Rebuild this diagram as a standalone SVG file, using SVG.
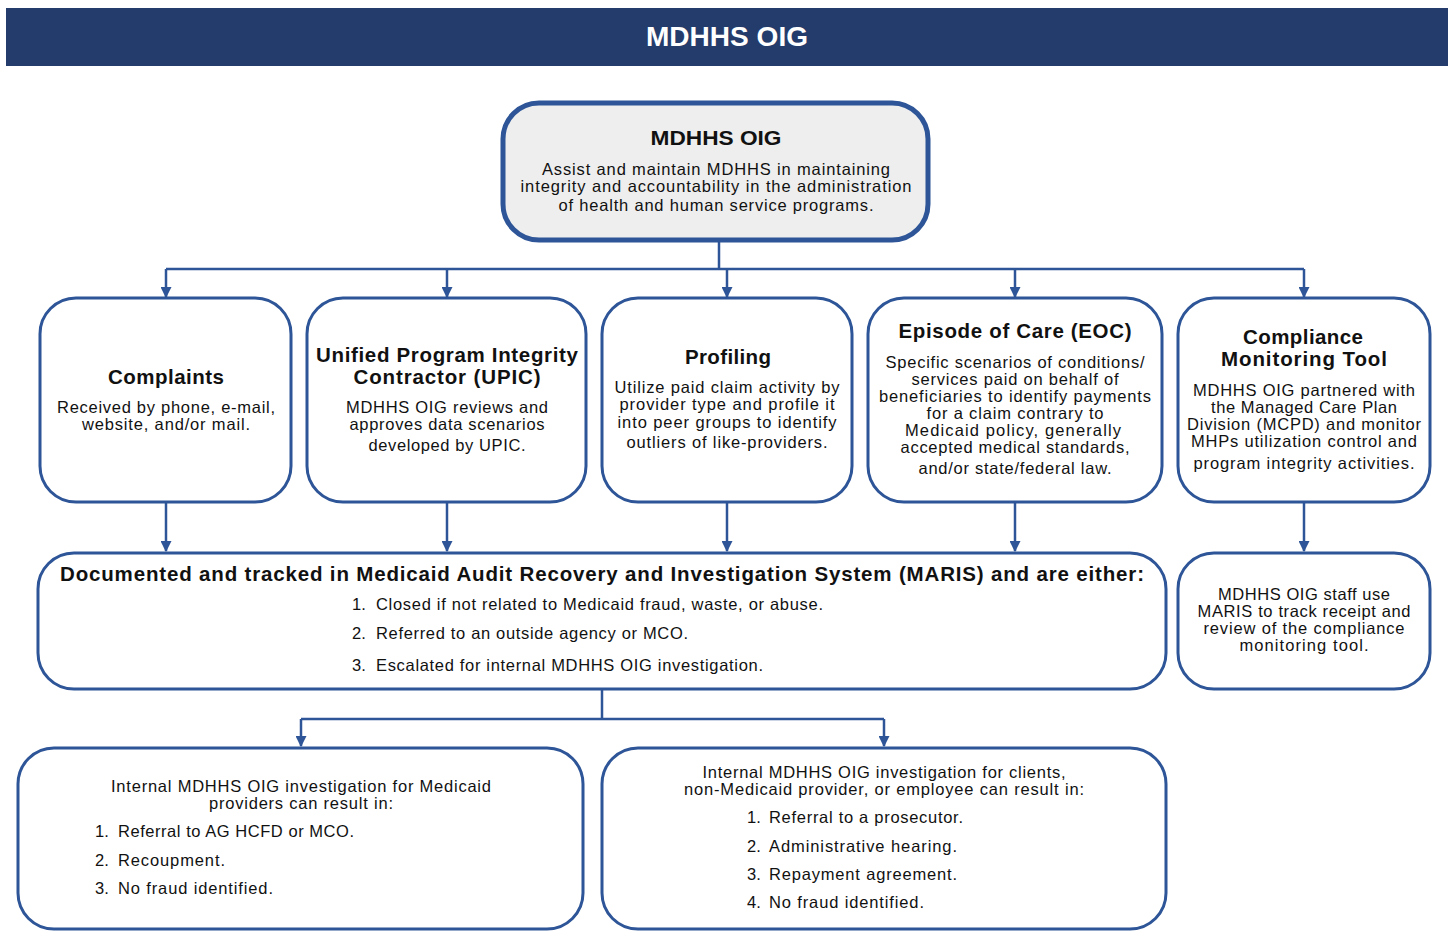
<svg xmlns="http://www.w3.org/2000/svg" width="1452" height="931" viewBox="0 0 1452 931">
<style>
.box{fill:#ffffff;stroke:#2d5597;stroke-width:3}
.top{fill:#eeeeee;stroke:#2d5597;stroke-width:5}
.ln{stroke:#2d5597;stroke-width:2.5;fill:none}
text{font-family:"Liberation Sans",Arial,sans-serif;fill:#111}
.t{font-size:20.5px;font-weight:bold;text-anchor:middle}
.b{font-size:16.5px;text-anchor:middle}
.l{font-size:16.5px}
.h{font-size:27px;font-weight:bold;fill:#ffffff;text-anchor:middle}
</style>
<defs>
<marker id="ah" viewBox="0 0 10 10" refX="9" refY="5" markerWidth="11" markerHeight="11" markerUnits="userSpaceOnUse" orient="auto">
<path d="M0,0 L10,5 L0,10 Z" fill="#2d5597"/>
</marker>
</defs>
<rect width="1452" height="931" fill="#ffffff"/>
<g id="header">
<rect x="6" y="8" width="1442" height="58" fill="#243c6b"/>
<text class="h" x="727" y="46" textLength="162" lengthAdjust="spacingAndGlyphs">MDHHS OIG</text>
</g>
<g id="connectors">
<path class="ln" d="M719,241 V269 M166,269 H1304"/>
<path class="ln" d="M166,269 V297" marker-end="url(#ah)"/>
<path class="ln" d="M447,269 V297" marker-end="url(#ah)"/>
<path class="ln" d="M727,269 V297" marker-end="url(#ah)"/>
<path class="ln" d="M1015,269 V297" marker-end="url(#ah)"/>
<path class="ln" d="M1304,269 V297" marker-end="url(#ah)"/>
<path class="ln" d="M166,503 V551" marker-end="url(#ah)"/>
<path class="ln" d="M447,503 V551" marker-end="url(#ah)"/>
<path class="ln" d="M727,503 V551" marker-end="url(#ah)"/>
<path class="ln" d="M1015,503 V551" marker-end="url(#ah)"/>
<path class="ln" d="M1304,503 V551" marker-end="url(#ah)"/>
<path class="ln" d="M602,690 V719 M301,719 H884"/>
<path class="ln" d="M301,719 V746" marker-end="url(#ah)"/>
<path class="ln" d="M884,719 V746" marker-end="url(#ah)"/>
</g>
<g id="mdhhs-oig">
<rect class="top" x="503" y="103" width="425" height="137" rx="36"/>
<text class="t" x="716" y="145" textLength="131" lengthAdjust="spacingAndGlyphs" style="font-size:21px">MDHHS OIG</text>
<text class="b" x="716" y="175" textLength="348">Assist and maintain MDHHS in maintaining</text>
<text class="b" x="716" y="192" textLength="391">integrity and accountability in the administration</text>
<text class="b" x="716" y="211" textLength="315">of health and human service programs.</text>
</g>
<g id="complaints">
<rect class="box" x="40" y="298" width="251" height="204" rx="36"/>
<text class="t" x="166" y="384" textLength="116">Complaints</text>
<text class="b" x="166" y="413" textLength="218">Received by phone, e-mail,</text>
<text class="b" x="166" y="430" textLength="168">website, and/or mail.</text>
</g>
<g id="upic">
<rect class="box" x="307" y="298" width="279" height="204" rx="36"/>
<text class="t" x="447" y="362" textLength="262">Unified Program Integrity</text>
<text class="t" x="447" y="384" textLength="187">Contractor (UPIC)</text>
<text class="b" x="447" y="413" textLength="202">MDHHS OIG reviews and</text>
<text class="b" x="447" y="430" textLength="195">approves data scenarios</text>
<text class="b" x="447" y="451" textLength="157">developed by UPIC.</text>
</g>
<g id="profiling">
<rect class="box" x="602" y="298" width="250" height="204" rx="36"/>
<text class="t" x="728" y="364" textLength="86">Profiling</text>
<text class="b" x="727" y="393" textLength="225">Utilize paid claim activity by</text>
<text class="b" x="727" y="410" textLength="215">provider type and profile it</text>
<text class="b" x="727" y="428" textLength="219">into peer groups to identify</text>
<text class="b" x="727" y="448" textLength="201">outliers of like-providers.</text>
</g>
<g id="eoc">
<rect class="box" x="868" y="298" width="294" height="204" rx="36"/>
<text class="t" x="1015" y="338" textLength="233">Episode of Care (EOC)</text>
<text class="b" x="1015" y="368" textLength="259">Specific scenarios of conditions/</text>
<text class="b" x="1015" y="385" textLength="207">services paid on behalf of</text>
<text class="b" x="1015" y="402" textLength="272">beneficiaries to identify payments</text>
<text class="b" x="1015" y="419" textLength="177">for a claim contrary to</text>
<text class="b" x="1013" y="436" textLength="216">Medicaid policy, generally</text>
<text class="b" x="1015" y="453" textLength="229">accepted medical standards,</text>
<text class="b" x="1015" y="474" textLength="193">and/or state/federal law.</text>
</g>
<g id="compliance">
<rect class="box" x="1178" y="298" width="252" height="204" rx="36"/>
<text class="t" x="1303" y="344" textLength="120">Compliance</text>
<text class="t" x="1304" y="366" textLength="166">Monitoring Tool</text>
<text class="b" x="1304" y="396" textLength="222">MDHHS OIG partnered with</text>
<text class="b" x="1304" y="413" textLength="186">the Managed Care Plan</text>
<text class="b" x="1304" y="430" textLength="234">Division (MCPD) and monitor</text>
<text class="b" x="1304" y="447" textLength="226">MHPs utilization control and</text>
<text class="b" x="1304" y="469" textLength="221">program integrity activities.</text>
</g>
<g id="maris">
<rect class="box" x="38" y="553" width="1128" height="136" rx="36"/>
<text class="t" x="602" y="581" textLength="1084">Documented and tracked in Medicaid Audit Recovery and Investigation System (MARIS) and are either:</text>
<text class="l" x="352" y="610">1.</text><text class="l" x="376" y="610" textLength="447">Closed if not related to Medicaid fraud, waste, or abuse.</text>
<text class="l" x="352" y="639">2.</text><text class="l" x="376" y="639" textLength="312">Referred to an outside agency or MCO.</text>
<text class="l" x="352" y="671">3.</text><text class="l" x="376" y="671" textLength="387">Escalated for internal MDHHS OIG investigation.</text>
</g>
<g id="maris-tracking">
<rect class="box" x="1178" y="553" width="252" height="136" rx="36"/>
<text class="b" x="1304" y="600" textLength="172">MDHHS OIG staff use</text>
<text class="b" x="1304" y="617" textLength="213">MARIS to track receipt and</text>
<text class="b" x="1304" y="634" textLength="201">review of the compliance</text>
<text class="b" x="1304" y="651" textLength="129">monitoring tool.</text>
</g>
<g id="medicaid-providers">
<rect class="box" x="18" y="748" width="565" height="181" rx="36"/>
<text class="b" x="301" y="792" textLength="380">Internal MDHHS OIG investigation for Medicaid</text>
<text class="b" x="301" y="809" textLength="184">providers can result in:</text>
<text class="l" x="95" y="837">1.</text><text class="l" x="118" y="837" textLength="236">Referral to AG HCFD or MCO.</text>
<text class="l" x="95" y="866">2.</text><text class="l" x="118" y="866" textLength="107">Recoupment.</text>
<text class="l" x="95" y="894">3.</text><text class="l" x="118" y="894" textLength="155">No fraud identified.</text>
</g>
<g id="clients">
<rect class="box" x="602" y="748" width="564" height="181" rx="36"/>
<text class="b" x="884" y="778" textLength="363">Internal MDHHS OIG investigation for clients,</text>
<text class="b" x="884" y="795" textLength="400">non-Medicaid provider, or employee can result in:</text>
<text class="l" x="747" y="823">1.</text><text class="l" x="769" y="823" textLength="194">Referral to a prosecutor.</text>
<text class="l" x="747" y="852">2.</text><text class="l" x="769" y="852" textLength="188">Administrative hearing.</text>
<text class="l" x="747" y="880">3.</text><text class="l" x="769" y="880" textLength="188">Repayment agreement.</text>
<text class="l" x="747" y="908">4.</text><text class="l" x="769" y="908" textLength="155">No fraud identified.</text>
</g>
</svg>
